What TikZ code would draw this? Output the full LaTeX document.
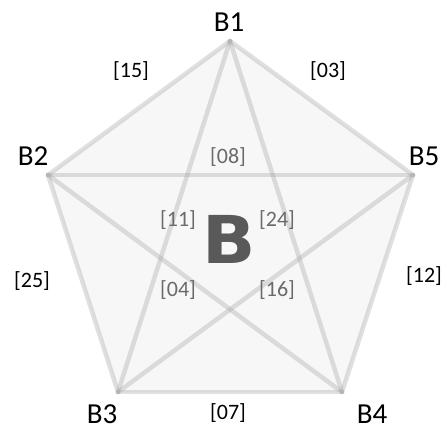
\documentclass[tikz,border=0pt]{standalone}
\usepackage{fontspec}
\setmainfont{Carlito}
\newfontfamily\heavyfont{DejaVu Sans}
\usetikzlibrary{positioning}
\definecolor{pgline}{HTML}{A6A6A6}
\definecolor{pgfill}{HTML}{F7F7F7}
\definecolor{pgmark}{HTML}{595959}
\definecolor{pginner}{HTML}{6A6A6A}

\begin{document}
\begin{tikzpicture}[
  x=1pt, y=-1pt,
  vlab/.style={font=\fontsize{29}{29}\selectfont, inner sep=0pt},
  elab/.style={font=\fontsize{22}{22}\selectfont, inner sep=0pt},
  ilab/.style={elab, text=pginner},
  edge/.style={draw=pgline, draw opacity=0.35, line width=4.5pt, line cap=round},
]
\useasboundingbox (0,0) rectangle (447,430);

% ---- vertices ----
\coordinate (b1) at (230,41);
\coordinate (b2) at (48,175);
\coordinate (b5) at (413,175);
\coordinate (b3) at (118,392);
\coordinate (b4) at (342,392);

% ---- pentagon face ----
\fill[pgfill] (b1) -- (b5) -- (b4) -- (b3) -- (b2) -- cycle;

% ---- outer edges ----
\foreach \a/\b in {b1/b2,b1/b5,b2/b3,b5/b4,b3/b4}{
  \draw[edge] (\a) -- (\b);
}
% ---- inner edges (star) ----
\foreach \a/\b in {b2/b5,b1/b3,b1/b4,b2/b4,b5/b3}{
  \draw[edge] (\a) -- (\b);
}

% ---- vertex labels ----
\node[vlab] (lb1) at (229,22) {B1};
\node[vlab] (lb2) at (33,156) {B2};
\node[vlab] (lb5) at (424,156) {B5};
\node[vlab] (lb3) at (102,414) {B3};
\node[vlab] (lb4) at (372,414) {B4};

% ---- outer edge labels ----
\node[elab] (e15) at (131,71) {[15]};
\node[elab] (e03) at (328,71) {[03]};
\node[elab] (e25) at (32,281) {[25]};
\node[elab] (e12) at (424,276) {[12]};
\node[elab] (e07) at (228,413) {[07]};

% ---- inner edge labels ----
\node[ilab] (e08) at (228,157) {[08]};
\node[ilab] (e11) at (178,220) {[11]};
\node[ilab] (e24) at (277,220) {[24]};
\node[ilab] (e04) at (178,290) {[04]};
\node[ilab] (e16) at (277,290) {[16]};

% ---- centre mark ----
\node[text=pgmark, font=\heavyfont\bfseries\fontsize{66}{66}\selectfont] (mark) at (229,239)
  {\scalebox{1.06}[1]{B}};

\end{tikzpicture}
\end{document}
